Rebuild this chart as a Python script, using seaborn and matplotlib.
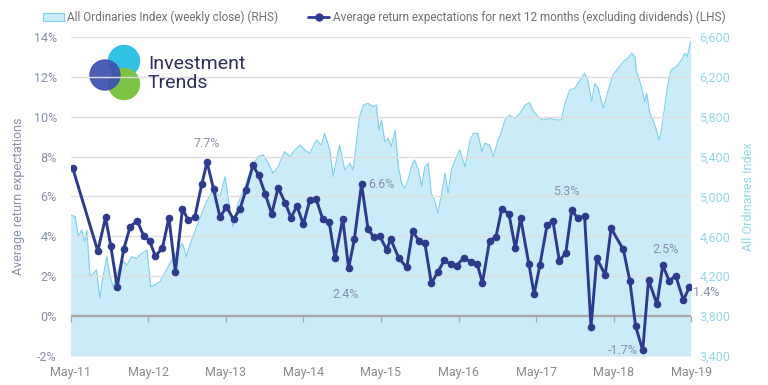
import numpy as np
import pandas as pd
import matplotlib.pyplot as plt
import matplotlib.ticker as mticker
from matplotlib.patches import Patch, Circle
from matplotlib.lines import Line2D
import seaborn as sns

# --- data (x = months since May-2011) ---
ret_months = [0.3, 4.2, 5.4, 6.2, 7.2, 8.2, 9.2, 10.3, 11.3, 12.2, 13.1, 14.2, 15.2, 16.2,
              17.3, 18.2, 19.2, 20.3, 21.1, 22.1, 23.1, 24.1, 25.2, 26.2, 27.1, 28.2, 29.1,
              30.1, 31.1, 32.1, 33.2, 34.1, 35.0, 36.0, 37.0, 38.0, 39.0, 40.0, 40.9, 42.1,
              43.0, 43.9, 45.0, 46.0, 46.9, 47.8, 48.9, 49.5, 50.8, 52.0, 52.9, 53.9, 54.8,
              55.8, 56.8, 57.8, 58.8, 59.7, 60.8, 61.9, 62.9, 63.7, 64.8, 65.8, 66.7, 67.8,
              68.8, 69.6, 70.9, 71.7, 72.6, 73.7, 74.6, 75.6, 76.6, 77.5, 78.5, 79.5, 80.5,
              81.4, 82.7, 83.6, 85.5, 86.5, 87.4, 88.5, 89.4, 90.7, 91.6, 92.6, 93.6, 94.8, 95.7]
ret_values = [7.44, 3.26, 4.95, 3.53, 1.47, 3.34, 4.48, 4.78, 4.01, 3.78, 3.01, 3.41, 4.93, 2.22,
              5.37, 4.81, 4.96, 6.63, 7.72, 6.38, 4.96, 5.48, 4.85, 5.38, 6.30, 7.56, 7.05,
              6.13, 5.13, 6.43, 5.68, 4.93, 5.52, 4.61, 5.82, 5.85, 4.86, 4.70, 2.89, 4.88,
              2.39, 3.88, 6.62, 4.38, 3.95, 4.02, 3.33, 3.86, 2.89, 2.44, 4.26, 3.76, 3.65,
              1.64, 2.22, 2.79, 2.61, 2.53, 2.92, 2.72, 2.61, 1.67, 3.76, 3.98, 5.38, 5.13,
              3.39, 4.93, 2.59, 1.10, 2.57, 4.56, 4.78, 2.77, 3.17, 5.30, 4.90, 5.02, -0.54,
              2.89, 2.06, 4.40, 3.34, 1.77, -0.50, -1.72, 1.81, 0.60, 2.54, 1.77, 2.02, 0.80, 1.45]

idx_months = [0.0, 0.7, 1.2, 1.7, 2.2, 2.5, 3.0, 3.5, 4.0, 4.5, 5.0, 5.6, 6.1, 6.6, 7.1, 7.9,
              8.7, 9.4, 10.2, 11.0, 11.8, 12.4, 13.0, 13.8, 14.8, 15.9, 16.6, 17.3, 17.9, 18.7,
              19.5, 20.3, 21.0, 22.1, 23.1, 23.9, 24.4, 25.1, 25.9, 27.0, 28.0, 29.0, 29.8,
              30.6, 31.3, 32.1, 33.1, 33.9, 34.7, 35.5, 36.2, 37.0, 38.0, 38.8, 39.3, 40.1,
              40.6, 41.6, 42.4, 43.2, 43.7, 44.2, 44.7, 45.3, 46.0, 46.8, 47.3, 47.7, 48.1,
              48.6, 49.1, 49.6, 50.2, 50.7, 51.2, 51.7, 52.2, 52.7, 53.2, 53.8, 54.3, 54.8,
              55.3, 55.8, 56.3, 56.8, 57.4, 57.9, 58.4, 58.9, 59.7, 60.2, 61.0, 61.8, 62.3,
              63.0, 63.6, 64.1, 64.8, 65.4, 66.1, 66.4, 67.2, 67.9, 68.7, 69.5, 70.3, 71.0,
              71.5, 72.3, 73.1, 74.1, 75.2, 75.9, 76.4, 77.2, 78.0, 78.8, 79.5, 80.0, 80.6,
              81.1, 81.6, 82.4, 83.1, 83.9, 84.7, 85.5, 86.2, 86.8, 87.3, 87.5, 88.3, 88.8,
              89.1, 89.6, 90.1, 90.6, 91.0, 91.4, 91.9, 92.4, 92.9, 93.7, 94.5, 95.0, 95.4, 95.9]
idx_values = [4814, 4797, 4597, 4664, 4547, 4664, 4196, 4229, 4263, 3979, 4196, 4396, 4196, 4095,
              4213, 4363, 4313, 4396, 4380, 4430, 4463, 4095, 4112, 4145, 4263, 4396, 4463, 4530,
              4396, 4563, 4697, 4831, 4948, 5065, 4998, 5199, 4965, 4697, 4931, 5098, 5299, 5400,
              5416, 5333, 5232, 5299, 5449, 5400, 5466, 5516, 5466, 5433, 5566, 5516, 5633, 5466,
              5199, 5516, 5266, 5333, 5266, 5533, 5800, 5917, 5934, 5900, 5917, 5666, 5767, 5549,
              5583, 5500, 5666, 5299, 5132, 5082, 5165, 5299, 5366, 5266, 5098, 5299, 5333, 5032,
              4965, 4831, 5032, 5232, 5032, 5266, 5400, 5466, 5299, 5566, 5633, 5633, 5449, 5533,
              5516, 5400, 5566, 5600, 5767, 5816, 5783, 5833, 5917, 5940, 5867, 5800, 5767, 5783,
              5767, 5767, 5917, 6068, 6085, 6168, 6235, 6168, 5950, 6134, 6085, 5884, 6051, 6218,
              6285, 6352, 6386, 6436, 6402, 6268, 6101, 5950, 6034, 5833, 5767, 5666, 5566, 5666,
              5900, 6134, 6268, 6302, 6369, 6436, 6402, 6553]

year_labels = ['May-11', 'May-12', 'May-13', 'May-14', 'May-15', 'May-16', 'May-17', 'May-18', 'May-19']
# which return points carry a value label, and where the label sits
labelled = {18: (0, 9, 'center', 'bottom'), 42: (5, 0, 'left', 'center'),
            40: (-2, -14, 'center', 'top'), 75: (-4, 9, 'center', 'bottom'),
            85: (-4, 0, 'right', 'center'), 88: (2, 7, 'center', 'bottom'),
            92: (3, -4, 'left', 'center')}

navy = '#2e3b8c'
fill_col = '#c9ecf8'
idx_line = '#7dd0ea'
grey_txt = '#8790aa'

sns.set_theme(style='white')
plt.rcParams['font.family'] = ['Roboto', 'DejaVu Sans']

base = pd.Timestamp('2011-05-01')


def to_dates(m):
    return base + pd.to_timedelta(np.asarray(m) * 30.4375, unit='D')


ret = pd.DataFrame({'date': to_dates(ret_months), 'ret': ret_values})
idx = pd.DataFrame({'date': to_dates(idx_months), 'idx': idx_values})
xticks = pd.date_range('2011-05-01', '2019-05-01', freq='12MS')

fig = plt.figure(figsize=(7.68, 3.85), dpi=100)
ax = fig.add_axes([0.092, 0.0753, 0.808, 0.829])
ax2 = ax.twinx()
ax.set_zorder(ax2.get_zorder() + 1)
ax.patch.set_visible(False)

# index (right axis)
ax2.fill_between(idx['date'], idx['idx'], 3400, color=fill_col, lw=0)
sns.lineplot(data=idx, x='date', y='idx', ax=ax2, color=idx_line, lw=0.8)
ax2.set_ylim(3400, 6600)
ax2.set_yticks(np.arange(3400, 6601, 400))
ax2.yaxis.set_major_formatter(mticker.StrMethodFormatter('{x:,.0f}'))
ax2.tick_params(axis='y', colors='#93d5e9', labelsize=9, length=0, pad=6)
ax2.set_ylabel('All Ordinaries Index', color='#93d5e9', fontsize=9, labelpad=8)

# return expectations (left axis)
ax.grid(axis='y', color='#dedede', lw=1)
ax.axhline(0, color='#a8a8a8', lw=1.6, zorder=1)
sns.lineplot(data=ret, x='date', y='ret', ax=ax, color=navy, lw=2.1, marker='o',
             markersize=5.5, markeredgewidth=0, zorder=3)
ax.set_ylim(-2, 14)
ax.set_yticks(range(-2, 15, 2))
ax.yaxis.set_major_formatter(mticker.FuncFormatter(lambda v, _: f'{v:.0f}%'))
ax.tick_params(axis='y', colors=grey_txt, labelsize=9, length=0, pad=10)
ax.set_ylabel('Average return expectations', color=grey_txt, fontsize=9, labelpad=6)
ax.set_xlim(xticks[0], xticks[-1])
ax.set_xticks(xticks)
ax.set_xticklabels(year_labels)
ax.tick_params(axis='x', colors='#8a8a8a', labelsize=9, length=0, pad=7)
ax.set_xlabel('')

# small tick marks on the 0% line
sec = ax.secondary_xaxis(0.125)
sec.set_xticks(xticks)
sec.tick_params(axis='x', length=4, width=1, color='#a8a8a8', labelbottom=False, direction='out')
for s in sec.spines.values():
    s.set_visible(False)

for a in (ax, ax2):
    for s in a.spines.values():
        s.set_visible(False)

for i, (dx, dy, ha, va) in labelled.items():
    ax.annotate(f'{ret_values[i]:.1f}%', xy=(ret['date'][i], ret_values[i]),
                xytext=(dx, dy), textcoords='offset points', ha=ha, va=va,
                fontsize=9, color=grey_txt, annotation_clip=False)

# legend
handles = [Patch(facecolor=fill_col, edgecolor=idx_line, lw=0.8),
           Line2D([], [], color=navy, lw=2, marker='o', markersize=5)]
labels = ['All Ordinaries Index (weekly close) (RHS)',
          'Average return expectations for next 12 months (excluding dividends) (LHS)']
fig.legend(handles, labels, loc='upper center', bbox_to_anchor=(0.5, 1.0), ncol=2,
           frameon=False, fontsize=8.5, labelcolor='#707070', columnspacing=2.5,
           handlelength=1.8, handletextpad=0.3)

# logo
lax = fig.add_axes([85 / 768, 1 - 105 / 385, 65 / 768, 65 / 385])
lax.set_xlim(85, 150)
lax.set_ylim(105, 40)
lax.set_aspect('equal')
lax.axis('off')
lax.add_patch(Circle((124, 61), 15.5, color='#30c1e4'))
lax.add_patch(Circle((124, 84), 15.5, color='#7cc443'))
lax.add_patch(Circle((105, 75), 15, color='#3f4fb0', alpha=0.92))
fig.text(148 / 768, 1 - 64 / 385, 'Investment', fontsize=14, color='#2d2f5e', va='center')
fig.text(148 / 768, 1 - 83 / 385, 'Trends', fontsize=14, color='#2d2f5e', va='center')

fig.savefig('out.png', dpi=100)
